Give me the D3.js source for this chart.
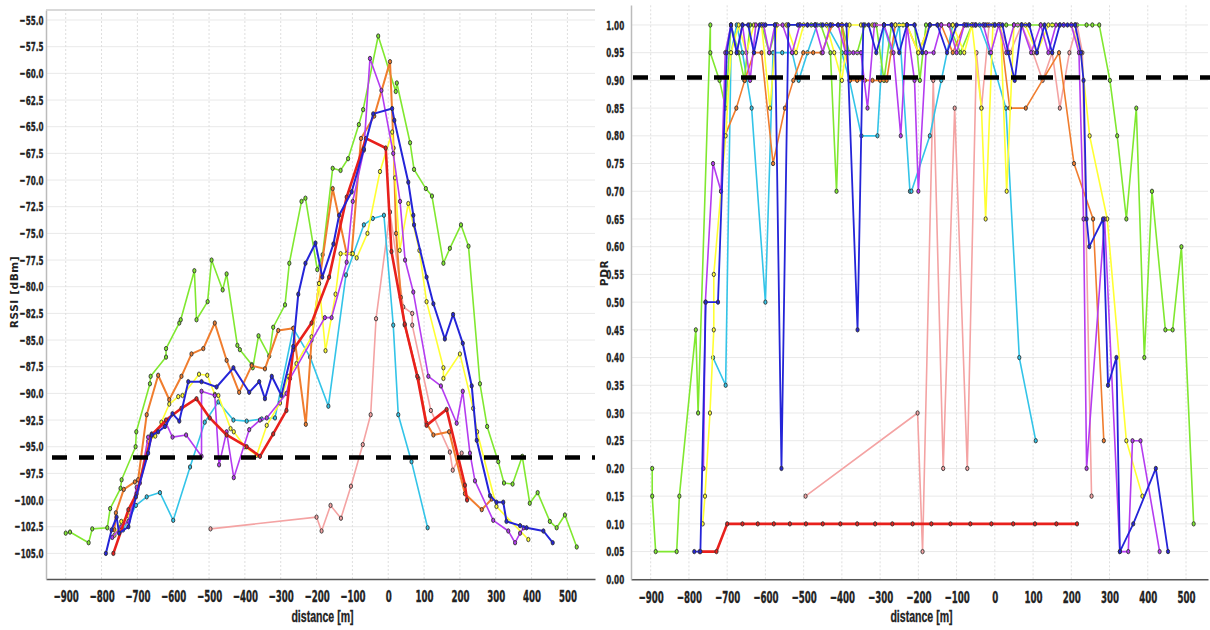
<!DOCTYPE html>
<html>
<head>
<meta charset="utf-8">
<script src="https://cdn.jsdelivr.net/npm/d3@7/dist/d3.min.js"></script>
<style>
body { margin:0; background:#fff; }
svg { display:block; }
.tick text { font-family:"Liberation Sans Narrow","Arial Narrow","DejaVu Sans Condensed",sans-serif; font-weight:bold; fill:#222; stroke:#222; stroke-width:0.35px; }
</style>
</head>
<body>
<svg id="chart" width="1210" height="630"></svg>
<script>
// ---- data: [distance m, value] ----
var rssiTicks = d3.range(-105, -54.9, 2.5)
var pdrTicks = d3.range(0, 1.001, 0.05)
var distTicks = d3.range(-900, 501, 100)
var rssiThreshold = -96
var pdrThreshold = 0.905

var rssiGreen = [[-900,-103.1],[-888,-103],[-836,-104],[-826,-102.7],[-784,-102.6],[-776,-100.8],[-747,-98.9],[-744,-98.1],[-705,-95],[-703,-93.6],[-665,-89.1],[-663,-88.4],[-620,-86.6],[-620,-85.8],[-583,-83.4],[-579,-83.1],[-541,-78.5],[-535,-83.1],[-504,-81.4],[-493,-77.5],[-462,-80.3],[-451,-78.8],[-421,-85.5],[-414,-85.9],[-381,-87.3],[-378,-87.6],[-362,-84.6],[-332,-86.5],[-321,-83.8],[-288,-81.7],[-276,-77.8],[-242,-72],[-231,-71.7],[-198,-78.4],[-183,-77],[-155,-68.9],[-133,-69.1],[-112,-68],[-82,-64.8],[-70,-63.4],[-28,-56.5],[21,-61.7],[24,-60.9],[61,-66.5],[72,-69],[105,-70.8],[122,-71.5],[154,-77.8],[172,-76.4],[203,-74.2],[224,-76.2],[256,-89.1],[276,-93.1],[307,-96.4],[323,-98.4],[347,-98.5],[374,-95.9],[395,-100.3],[417,-99.3],[451,-102],[470,-102.6],[493,-101.4],[526,-104.4]]
var rssiOrange = [[-764,-102.8],[-760,-101.2],[-738,-99],[-707,-98.3],[-698,-98.1],[-674,-92],[-642,-88.3],[-611,-90.6],[-577,-88.4],[-549,-86.3],[-516,-85.8],[-484,-83.4],[-451,-86.9],[-416,-89.9],[-381,-87.4],[-344,-87.7],[-307,-84.1],[-265,-83.9],[-230,-92.9],[-214,-85],[-193,-79.7],[-155,-70.8],[-116,-76.9],[-102,-76.9],[-76,-66.1],[-39,-64],[5,-58.9],[15,-67],[22,-75],[35,-81],[46,-83.6],[84,-88.6],[107,-92.8],[126,-93.9],[170,-93.6],[214,-99.4],[261,-100.9],[289,-99.9]]
var rssiYellow = [[-764,-103.3],[-745,-102],[-725,-101.5],[-700,-99],[-670,-94.5],[-650,-94],[-633,-92.7],[-611,-91],[-586,-90.3],[-574,-90.2],[-528,-88.2],[-505,-88.3],[-484,-90.1],[-474,-90.2],[-440,-93.3],[-431,-93.6],[-400,-95],[-367,-95.8],[-339,-93],[-302,-90.9],[-279,-88.4],[-256,-87.2],[-214,-84.7],[-193,-79.7],[-175,-86],[-147,-80.7],[-133,-76.9],[-99,-76.9],[-88,-77.3],[-58,-75],[-23,-69.2],[11,-65.5],[19,-69.8],[32,-76.6],[56,-72.2],[87,-76.6],[107,-81.4],[154,-87.6],[154,-88.6],[200,-86.3],[237,-91.4],[248,-93.6],[302,-100.6],[391,-103.7]]
var rssiBlue = [[-788,-105],[-772,-102.8],[-758,-101.6],[-751,-103.1],[-725,-102.5],[-704,-99.7],[-670,-95.6],[-660,-93.9],[-642,-93.6],[-623,-93.1],[-602,-91.9],[-583,-92.6],[-558,-88.9],[-521,-88.9],[-479,-89.4],[-432,-87.6],[-388,-89.9],[-360,-88.9],[-344,-90.5],[-325,-88.4],[-298,-90.2],[-265,-85.6],[-251,-80.7],[-231,-77.8],[-203,-75.9],[-184,-79.1],[-153,-76],[-137,-73.3],[-102,-71.1],[-68,-67.1],[-42,-63.8],[11,-63.3],[17,-64.4],[56,-70.2],[70,-73.3],[72,-74.2],[107,-79.1],[126,-81.6],[158,-84.9],[181,-82.6],[208,-85.3],[233,-89.3],[247,-94.4],[284,-99.6],[302,-100.2],[321,-100.2],[330,-102],[368,-102.4],[386,-102.6],[433,-102.9],[459,-104]]
var rssiPurple = [[-770,-103.5],[-745,-102.5],[-725,-102],[-702,-98.8],[-693,-98.4],[-670,-94.1],[-660,-93.8],[-620,-92.8],[-602,-94.1],[-564,-93.9],[-521,-95.9],[-521,-89.8],[-484,-90.2],[-472,-96.7],[-451,-93.6],[-431,-97.9],[-388,-93.4],[-358,-92.5],[-339,-92.3],[-284,-90],[-274,-88.6],[-177,-82.9],[-158,-82.9],[-116,-77.7],[-99,-72],[-68,-67.2],[-51,-58.6],[-19,-61.6],[14,-67.5],[33,-72],[47,-77.5],[70,-80.5],[112,-88.4],[147,-89.3],[191,-92.8],[208,-89.8],[228,-95.6],[242,-98.2],[293,-101.9],[335,-102.9],[354,-104],[368,-103.1],[378,-102.6]]
var rssiRed = [[-767,-105],[-725,-100.9],[-702,-99.4],[-660,-93.9],[-620,-92.5],[-577,-91.4],[-535,-90.5],[-498,-92.3],[-451,-93.9],[-395,-95],[-358,-95.9],[-321,-93.8],[-284,-91.6],[-265,-85.9],[-214,-83.4],[-165,-79.1],[-116,-71.6],[-62,-66.1],[-7,-67],[9,-76.7],[46,-83.5],[81,-88.4],[107,-93],[163,-91.5],[214,-98.6],[220,-100]]
var rssiCyan = [[-740,-102.8],[-704,-100.5],[-674,-99.7],[-637,-99.3],[-600,-101.9],[-553,-96.9],[-512,-92.7],[-474,-90.8],[-432,-92.5],[-395,-92.6],[-353,-92.4],[-316,-92.3],[-265,-83.9],[-218,-86.6],[-167,-91.2],[-118,-78.9],[-68,-74.2],[-43,-73.6],[-12,-73.3],[14,-83.6],[28,-92],[65,-96.4],[110,-102.6]]
var rssiPink = [[-496,-102.7],[-200,-101.6],[-186,-102.9],[-161,-100.5],[-132,-101.7],[-104,-98.7],[-71,-94.8],[-49,-92],[-34,-83],[5,-73],[42,-81.9],[67,-82.5],[67,-83.6],[119,-91.6],[172,-95.5],[180,-97.2],[205,-95.6]]

var pdrGreen = [[-896,0.2],[-896,0.15],[-887,0.05],[-832,0.05],[-825,0.15],[-782,0.45],[-776,0.3],[-744,1],[-744,0.95],[-720,0.9],[-704,0.85],[-690,1],[-670,0.95],[-655,0.9],[-640,1],[-610,1],[-590,0.95],[-570,1],[-540,1],[-510,1],[-480,1],[-455,1],[-430,0.95],[-414,0.7],[-400,1],[-380,0.95],[-360,0.95],[-340,1],[-310,1],[-290,0.9],[-270,1],[-240,1],[-210,1],[-196,0.9],[-180,1],[-150,1],[-120,1],[-90,0.95],[-60,1],[-30,1],[0,1],[30,1],[60,1],[90,1],[120,1],[150,1],[180,1],[210,1],[240,1],[255,1],[273,1],[301,0.9],[320,0.8],[344,0.65],[370,0.85],[391,0.4],[411,0.7],[446,0.45],[465,0.45],[488,0.6],[520,0.1]]
var pdrOrange = [[-706,0.8],[-676,0.85],[-654,0.9],[-630,0.95],[-610,0.95],[-580,0.75],[-549,0.85],[-527,0.9],[-501,0.95],[-475,0.95],[-453,0.95],[-425,1],[-400,1],[-379,0.9],[-360,0.9],[-340,0.9],[-320,0.9],[-300,0.9],[-283,0.9],[-260,1],[-230,1],[-200,0.95],[-170,1],[-140,1],[-110,0.95],[-80,1],[-50,1],[-20,1],[13,1],[39,0.85],[81,0.85],[168,0.95],[207,0.75],[257,0.65],[285,0.25]]
var pdrYellow = [[-764,0.1],[-758,0.15],[-745,0.3],[-735,0.45],[-735,0.55],[-716,0.7],[-704,0.8],[-690,0.95],[-670,1],[-650,0.95],[-630,1],[-610,1],[-588,0.85],[-570,1],[-545,1],[-520,0.95],[-500,1],[-470,1],[-440,1],[-420,0.95],[-400,0.9],[-380,1],[-350,1],[-320,1],[-290,1],[-260,1],[-230,1],[-200,0.95],[-170,1],[-140,1],[-110,1],[-80,0.95],[-60,1],[-35,0.85],[-24,0.65],[-5,1],[15,1],[31,0.7],[50,1],[80,1],[110,0.95],[140,1],[170,1],[200,1],[225,0.95],[248,0.8],[294,0.65],[344,0.25],[386,0.15]]
var pdrBlue = [[-786,0.05],[-770,0.05],[-756,0.5],[-724,0.5],[-701,0.95],[-690,1],[-675,0.95],[-660,1],[-645,1],[-630,0.95],[-615,1],[-600,1],[-575,1],[-558,0.2],[-540,1],[-515,1],[-490,1],[-470,1],[-450,1],[-430,1],[-410,1],[-388,1],[-359,0.45],[-344,1],[-330,1],[-310,0.95],[-290,1],[-270,1],[-250,0.95],[-230,1],[-210,1],[-190,0.95],[-170,1],[-150,1],[-125,0.95],[-100,1],[-75,1],[-50,1],[-25,1],[0,1],[20,1],[35,0.95],[52,0.9],[70,1],[90,1],[110,0.95],[130,1],[150,0.95],[170,1],[190,1],[210,1],[225,0.95],[232,0.9],[240,0.65],[247,0.6],[283,0.65],[296,0.35],[318,0.4],[327,0.05],[362,0.1],[421,0.2],[453,0.05]]
var pdrPurple = [[-762,0.2],[-757,0.5],[-737,0.75],[-716,0.7],[-705,0.95],[-690,1],[-675,0.95],[-660,1],[-640,0.9],[-625,1],[-605,1],[-590,0.95],[-575,1],[-555,1],[-530,0.95],[-510,1],[-490,1],[-470,1],[-450,0.95],[-430,1],[-410,1],[-390,0.95],[-370,0.95],[-350,0.95],[-333,0.85],[-315,1],[-290,1],[-265,0.95],[-246,0.8],[-230,1],[-210,0.9],[-200,0.7],[-180,0.95],[-160,0.95],[-140,1],[-120,1],[-100,0.95],[-80,1],[-55,1],[-30,1],[-10,0.95],[10,1],[30,0.95],[50,1],[70,1],[95,0.95],[120,1],[140,0.95],[160,1],[180,1],[200,1],[220,0.95],[232,0.65],[240,0.2],[287,0.65],[327,0.05],[349,0.05],[360,0.25],[381,0.25],[431,0.05]]
var pdrRed = [[-772,0.05],[-728,0.05],[-700,0.1],[-660,0.1],[-620,0.1],[-578,0.1],[-536,0.1],[-494,0.1],[-450,0.1],[-404,0.1],[-360,0.1],[-313,0.1],[-268,0.1],[-215,0.1],[-166,0.1],[-116,0.1],[-64,0.1],[-9,0.1],[48,0.1],[105,0.1],[161,0.1],[215,0.1]]
var pdrCyan = [[-737,0.4],[-704,0.35],[-690,0.95],[-675,1],[-660,0.95],[-636,0.85],[-600,0.5],[-580,0.95],[-556,0.95],[-530,0.95],[-513,0.9],[-490,0.95],[-465,1],[-440,1],[-400,0.95],[-380,0.9],[-349,0.8],[-307,0.8],[-290,1],[-270,0.95],[-250,1],[-222,0.7],[-218,0.7],[-170,0.8],[-140,0.9],[-110,1],[-70,1],[-40,1],[-13,0.95],[29,0.85],[64,0.4],[107,0.25]]
var pdrPink = [[-495,0.15],[-202,0.3],[-189,0.05],[-161,0.9],[-135,0.2],[-105,0.85],[-72,0.2],[-48,0.95],[-35,0.85],[-15,1],[10,1],[40,0.95],[70,1],[100,0.95],[125,0.9],[150,0.95],[170,0.85],[195,0.95],[215,1],[229,0.95],[253,0.15]]

var colors = { pink:"#f4a3a3", cyan:"#33c4e8", green:"#80e830", orange:"#f07d2e", yellow:"#ffff33", purple:"#b43cf0", red:"#e8201c", blue:"#2424d8" }

var svg = d3.select("#chart")

var drawPanel = function(opt)
{
    var x = d3.scaleLinear().domain(opt.xDomain).range(opt.xRange)
    var y = d3.scaleLinear().domain(opt.yDomain).range(opt.yRange)
    var g = svg.append("g")

    // grid
    g.selectAll(".hgrid").data(opt.yTicks).enter().append("line")
        .attr("x1", opt.xRange[0]).attr("x2", opt.xRange[1])
        .attr("y1", function(d){ return y(d) }).attr("y2", function(d){ return y(d) })
        .attr("stroke", "#e9e9e9").attr("stroke-width", 1)
    g.selectAll(".vgrid").data(distTicks).enter().append("line")
        .attr("x1", function(d){ return x(d) }).attr("x2", function(d){ return x(d) })
        .attr("y1", opt.yRange[0]).attr("y2", opt.yRange[1])
        .attr("stroke", "#dedede").attr("stroke-dasharray", "2,2")

    // axes
    var xAxis = g.append("g").attr("transform", "translate(0," + opt.yRange[0] + ")")
        .call(d3.axisBottom(x).tickValues(distTicks).tickSize(0).tickPadding(12).tickFormat(d3.format("d")))
    xAxis.select(".domain").attr("stroke", "#555").attr("stroke-width", 1.5)
    xAxis.selectAll("text").style("font-size", "16px").attr("transform", "scale(0.6,1)")

    var yAxis = g.append("g").attr("transform", "translate(" + opt.xRange[0] + ",0)")
        .call(d3.axisLeft(y).tickValues(opt.yTicks).tickSize(0).tickPadding(opt.yPad).tickFormat(d3.format(opt.yFormat)))
    yAxis.select(".domain").attr("stroke", "#bbb").attr("stroke-width", 1.5)
    yAxis.selectAll("text").style("font-size", "13px").attr("transform", "scale(0.62,1)")

    if (opt.topBorder)
    {
        g.append("line").attr("x1", opt.xRange[0]).attr("x2", opt.xRange[1])
            .attr("y1", opt.yRange[1]).attr("y2", opt.yRange[1])
            .attr("stroke", "#ccc").attr("stroke-width", 1.5)
    }

    // series
    var line = d3.line().x(function(d){ return x(d[0]) }).y(function(d){ return y(d[1]) })
    opt.series.forEach(function(s)
    {
        g.append("path").datum(s.data)
            .attr("d", line).attr("fill", "none")
            .attr("stroke", colors[s.name]).attr("stroke-width", s.width || 1.6)
            .attr("stroke-linejoin", "round")
        g.selectAll(null).data(s.data).enter().append("ellipse")
            .attr("cx", function(d){ return x(d[0]) })
            .attr("cy", function(d){ return y(d[1]) })
            .attr("rx", 1.6).attr("ry", 2.2)
            .attr("fill", colors[s.name]).attr("stroke", "#333").attr("stroke-width", 0.9)
    })

    // threshold
    g.append("line")
        .attr("x1", opt.dashFrom).attr("x2", opt.xRange[1] + opt.dashExtra)
        .attr("y1", y(opt.threshold)).attr("y2", y(opt.threshold))
        .attr("stroke", "#000").attr("stroke-width", 4.5).attr("stroke-dasharray", "15,12")

    // titles
    g.append("text")
        .attr("transform", "translate(" + opt.yTitleX + "," + opt.yTitleY + ") rotate(-90)")
        .attr("text-anchor", "middle")
        .style("font-family", "DejaVu Sans").style("font-weight", "bold").style("font-size", "10.5px")
        .style("letter-spacing", "0.6px").attr("fill", "#222")
        .text(opt.yTitle)
    g.append("text")
        .attr("transform", "translate(" + ((opt.xRange[0] + opt.xRange[1]) / 2 + 2) + ",622) scale(0.66,1)")
        .attr("text-anchor", "middle")
        .style("font-family", "Liberation Sans Narrow, Arial Narrow, sans-serif").style("font-weight", "bold").style("font-size", "16px")
        .attr("fill", "#222").attr("stroke", "#222").attr("stroke-width", 0.3)
        .text("distance [m]")
}

drawPanel({
    xDomain:[-955, 577], xRange:[46, 595],
    yDomain:[-107.4, -54.06], yRange:[579, 10],
    yTicks:rssiTicks, yFormat:".1f", yPad:4, topBorder:true,
    threshold:rssiThreshold, dashFrom:52, dashExtra:0,
    yTitle:"RSSI [dBm]", yTitleX:18, yTitleY:292,
    series:[
        {name:"pink", data:rssiPink},
        {name:"cyan", data:rssiCyan},
        {name:"green", data:rssiGreen},
        {name:"orange", data:rssiOrange, width:2},
        {name:"yellow", data:rssiYellow},
        {name:"purple", data:rssiPurple},
        {name:"red", data:rssiRed, width:2.6},
        {name:"blue", data:rssiBlue, width:2}
    ]
})

drawPanel({
    xDomain:[-951.5, 557.5], xRange:[631, 1208],
    yDomain:[0, 1.036], yRange:[579.3, 5],
    yTicks:pdrTicks, yFormat:".2f", yPad:11, topBorder:false,
    threshold:pdrThreshold, dashFrom:633, dashExtra:2,
    yTitle:"PDR", yTitleX:608, yTitleY:273,
    series:[
        {name:"pink", data:pdrPink},
        {name:"cyan", data:pdrCyan},
        {name:"green", data:pdrGreen},
        {name:"orange", data:pdrOrange},
        {name:"yellow", data:pdrYellow},
        {name:"purple", data:pdrPurple},
        {name:"red", data:pdrRed, width:2.6},
        {name:"blue", data:pdrBlue, width:1.8}
    ]
})
</script>
</body>
</html>
